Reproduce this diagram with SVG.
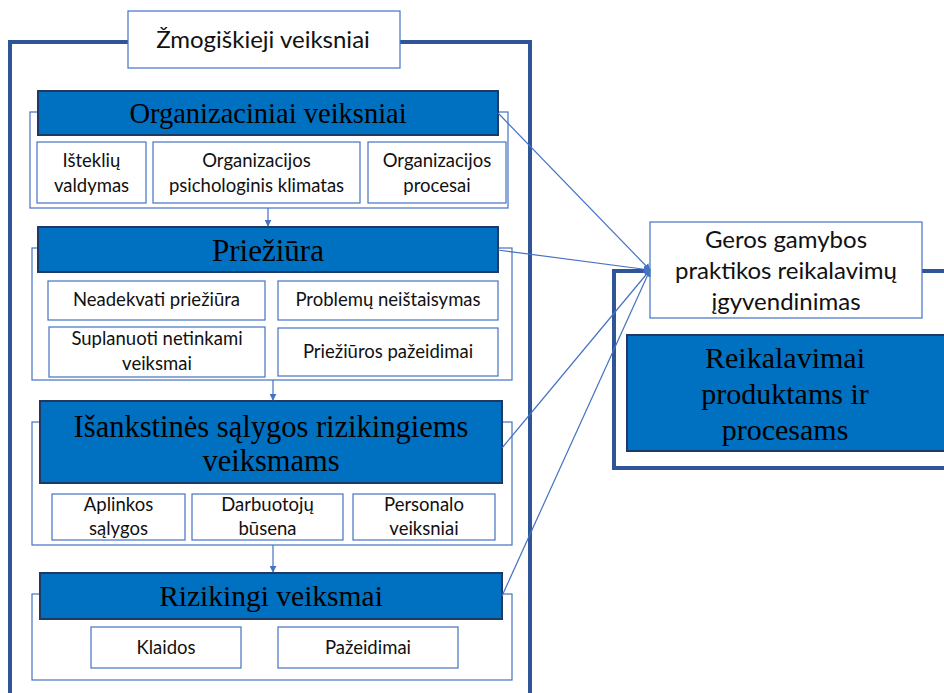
<svg xmlns="http://www.w3.org/2000/svg" width="944" height="693" viewBox="0 0 944 693">
  <style>
    .frame { fill: none; stroke: #2F5597; stroke-width: 4; }
    .panel { fill: #FFFFFF; stroke: #4472C4; stroke-width: 1.2; }
    .head { fill: #0070C0; stroke: #1F3864; stroke-width: 2; }
    .item { fill: #FFFFFF; stroke: #4472C4; stroke-width: 1.2; }
    .serif { font-family: "Liberation Serif", "DejaVu Serif", serif; fill: #000000; text-anchor: middle; }
    .sans { font-family: Lato, "Liberation Sans", sans-serif; fill: #111111; text-anchor: middle; }
    .s17 { font-size: 18.5px; }
    .conn { stroke: #4472C4; stroke-width: 1.2; fill: none; }
  </style>
  <defs>
    <marker id="arr" viewBox="0 0 10 10" refX="9" refY="5" markerWidth="7" markerHeight="7" orient="auto" markerUnits="userSpaceOnUse">
      <path d="M0,0 L10,5 L0,10 z" fill="#4472C4"/>
    </marker>
  </defs>
  <rect width="944" height="693" fill="#FFFFFF"/>

  <!-- outer frame of human factors -->
  <g id="human-frame">
    <path class="frame" d="M128,42 H10 V695 M400,42 H530 V695"/>
    <rect x="128" y="11" width="272" height="57" fill="#FFFFFF" stroke="#4472C4" stroke-width="1.2"/>
    <text class="sans" x="263" y="48" font-size="24">Žmogiškieji veiksniai</text>
  </g>

  <!-- right frame -->
  <g id="gmp-frame">
    <path class="frame" d="M650,271 H614 V468 H946 M922,271 H946"/>
  </g>

  <g id="organizational">
    <rect class="panel" x="30" y="112" width="478" height="96"/>
    <rect class="head" x="38" y="91" width="460" height="44"/>
    <text class="serif" x="268" y="123" font-size="28.5">Organizaciniai veiksniai</text>
    <rect class="item" x="37" y="142" width="109" height="61"/>
    <text class="sans s17" x="91.5" y="167">Išteklių</text>
    <text class="sans s17" x="91.5" y="192">valdymas</text>
    <rect class="item" x="153" y="142" width="207" height="61"/>
    <text class="sans s17" x="256.5" y="167">Organizacijos</text>
    <text class="sans s17" x="256.5" y="192">psichologinis klimatas</text>
    <rect class="item" x="368" y="142" width="138" height="61"/>
    <text class="sans s17" x="437" y="167">Organizacijos</text>
    <text class="sans s17" x="437" y="192">procesai</text>
  </g>

  <g id="supervision">
    <rect class="panel" x="32" y="248" width="480" height="132"/>
    <rect class="head" x="38" y="227" width="460" height="45"/>
    <text class="serif" x="268" y="261" font-size="31">Priežiūra</text>
    <rect class="item" x="48" y="281" width="217" height="39"/>
    <text class="sans s17" x="156.5" y="306">Neadekvati priežiūra</text>
    <rect class="item" x="278" y="281" width="220" height="39"/>
    <text class="sans s17" x="388" y="306">Problemų neištaisymas</text>
    <rect class="item" x="49" y="327" width="216" height="50"/>
    <text class="sans s17" x="157" y="345">Suplanuoti netinkami</text>
    <text class="sans s17" x="157" y="370">veiksmai</text>
    <rect class="item" x="278" y="328" width="220" height="48"/>
    <text class="sans s17" x="388" y="358">Priežiūros pažeidimai</text>
  </g>

  <g id="preconditions">
    <rect class="panel" x="32" y="422" width="480" height="123"/>
    <rect class="head" x="40" y="401" width="462" height="82"/>
    <text class="serif" x="271" y="437" font-size="30.5">Išankstinės sąlygos rizikingiems</text>
    <text class="serif" x="271" y="471" font-size="30.5">veiksmams</text>
    <rect class="item" x="52" y="494" width="133" height="46"/>
    <text class="sans s17" x="118.5" y="511">Aplinkos</text>
    <text class="sans s17" x="118.5" y="535">sąlygos</text>
    <rect class="item" x="192" y="494" width="151" height="46"/>
    <text class="sans s17" x="267.5" y="511">Darbuotojų</text>
    <text class="sans s17" x="267.5" y="535">būsena</text>
    <rect class="item" x="353" y="494" width="142" height="46"/>
    <text class="sans s17" x="424" y="511">Personalo</text>
    <text class="sans s17" x="424" y="535">veiksniai</text>
  </g>

  <g id="unsafe-acts">
    <rect class="panel" x="32" y="594" width="480" height="86"/>
    <rect class="head" x="40" y="573" width="462" height="46"/>
    <text class="serif" x="271" y="606" font-size="29.5">Rizikingi veiksmai</text>
    <rect class="item" x="91" y="627" width="150" height="41"/>
    <text class="sans s17" x="166" y="654">Klaidos</text>
    <rect class="item" x="278" y="627" width="180" height="41"/>
    <text class="sans s17" x="368" y="654">Pažeidimai</text>
  </g>

  <g id="gmp">
    <rect x="650" y="222" width="272" height="96" fill="#FFFFFF" stroke="#4472C4" stroke-width="1.2"/>
    <text class="sans" x="786" y="248" font-size="24">Geros gamybos</text>
    <text class="sans" x="786" y="279" font-size="24">praktikos reikalavimų</text>
    <text class="sans" x="786" y="310" font-size="24">įgyvendinimas</text>
  </g>

  <g id="requirements">
    <rect class="head" x="627" y="335" width="320" height="116"/>
    <text class="serif" x="785" y="368" font-size="30">Reikalavimai</text>
    <text class="serif" x="785" y="404" font-size="30">produktams ir</text>
    <text class="serif" x="785" y="440" font-size="30">procesams</text>
  </g>

  <g id="connectors">
    <line class="conn" x1="268" y1="208" x2="268" y2="226" marker-end="url(#arr)"/>
    <line class="conn" x1="273" y1="380" x2="273" y2="400" marker-end="url(#arr)"/>
    <line class="conn" x1="273" y1="545" x2="273" y2="572" marker-end="url(#arr)"/>
    <line class="conn" x1="498" y1="113" x2="650" y2="270" marker-end="url(#arr)"/>
    <line class="conn" x1="498" y1="250" x2="650" y2="270" marker-end="url(#arr)"/>
    <line class="conn" x1="502" y1="448" x2="650" y2="270" marker-end="url(#arr)"/>
    <line class="conn" x1="502" y1="596" x2="650" y2="270" marker-end="url(#arr)"/>
  </g>
</svg>
